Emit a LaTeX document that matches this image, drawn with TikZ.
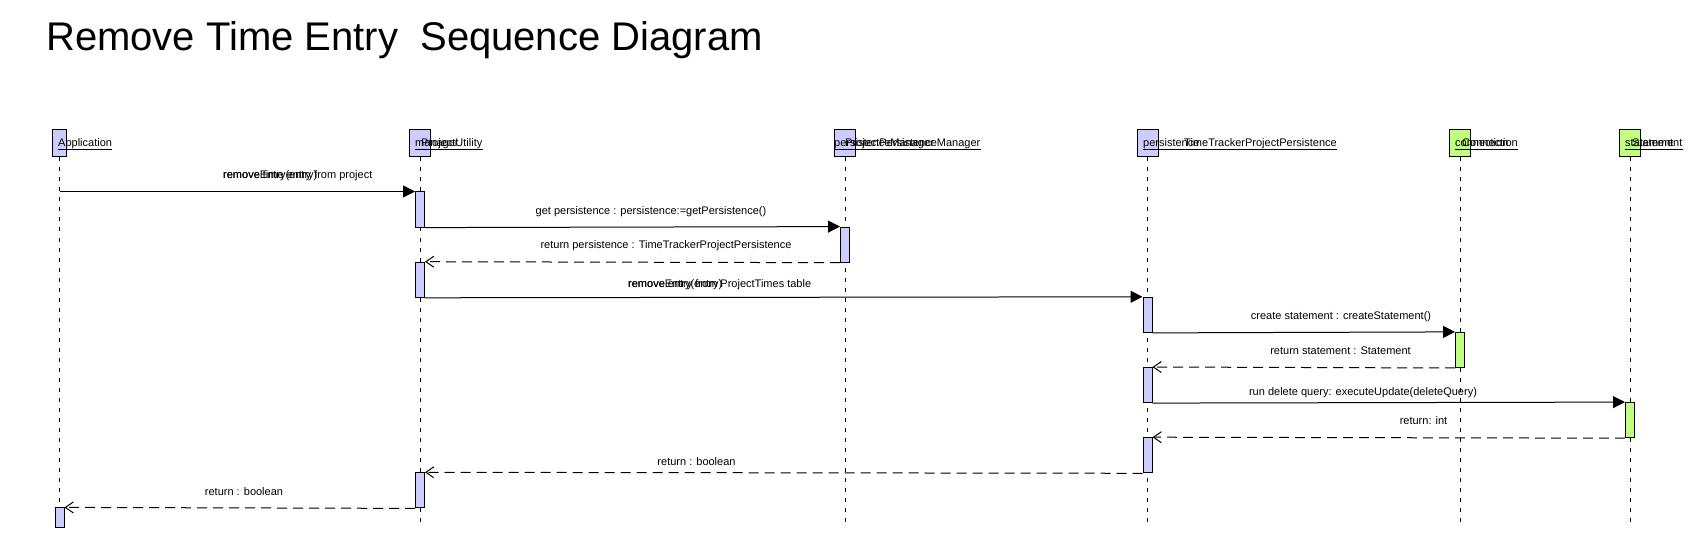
\documentclass[tikz,border=0pt]{standalone}
\usepackage{fontspec}
\setmainfont{Liberation Sans}
\usetikzlibrary{arrows.meta}
\definecolor{lav}{RGB}{204,204,255}
\definecolor{grn}{RGB}{192,255,128}
\begin{document}
\begin{tikzpicture}[x=1bp,y=-1bp,
  lbl/.style={font=\fontsize{11bp}{13bp}\selectfont, inner sep=0pt, anchor=base},
  hlbl/.style={lbl, anchor=base west},
  head/.style={draw, line width=1bp, minimum height=27bp, minimum width=21bp, inner sep=0pt},
  act/.style={draw, line width=1bp, minimum width=9bp, minimum height=35.1bp, inner sep=0pt},
  life/.style={line width=1bp, dash pattern=on 4bp off 6bp},
  call/.style={line width=1bp, -{Triangle[length=12bp,width=12bp]}},
  ret/.style={line width=1bp, dash pattern=on 10bp off 6bp, -{Straight Barb[length=8bp,width=11bp]}},
  uline/.style={line width=0.9bp}
]
\useasboundingbox (0,0) rectangle (1690,539);
\fill[white] (0,0) rectangle (1690,539);

% title
\node[anchor=base west, inner sep=0pt, font=\fontsize{40bp}{48bp}\selectfont] (title) at (46,51) {Remove Time Entry~~Sequence Diagram};

% heads
\node[head, fill=lav, minimum width=14bp] (app) at (59.5,143.5) {};
\node[head, fill=lav] (pu) at (420,143.5) {};
\node[head, fill=lav] (mg) at (845,143.5) {};
\node[head, fill=lav] (ps) at (1147.5,143.5) {};
\node[head, fill=grn] (cn) at (1460,143.5) {};
\node[head, fill=grn] (st) at (1630,143.5) {};

% lifeline ends
\coordinate (appE) at (59.5,524);
\coordinate (puE) at (420,524);
\coordinate (mgE) at (845,524);
\coordinate (psE) at (1147.5,524);
\coordinate (cnE) at (1460,524);
\coordinate (stE) at (1630,524);
\draw[life] (app) -- (appE);
\draw[life] (pu) -- (puE);
\draw[life] (mg) -- (mgE);
\draw[life] (ps) -- (psE);
\draw[life] (cn) -- (cnE);
\draw[life] (st) -- (stE);

% head labels
\node[hlbl] (appL) at (58,147) {Application};
\draw[uline] ([yshift=-2bp]appL.base west) -- ([yshift=-2bp]appL.base east);
\node[hlbl] (puA) at (415,147) {manager};
\node[hlbl] (puB) at (421,147) {ProjectUtility};
\draw[uline] ([yshift=-2bp]puA.base west) -- ([yshift=-2bp]puB.base east);
\node[hlbl] (mgA) at (834,147) {persistenceManager};
\node[hlbl] (mgB) at (845,147) {ProjectPersistenceManager};
\draw[uline] ([yshift=-2bp]mgA.base west) -- ([yshift=-2bp]mgB.base east);
\node[hlbl] (psA) at (1143,147) {persistence};
\node[hlbl] (psB) at (1184,147) {TimeTrackerProjectPersistence};
\draw[uline] ([yshift=-2bp]psA.base west) -- ([yshift=-2bp]psB.base east);
\node[hlbl] (cnA) at (1455,147) {connection};
\node[hlbl] (cnB) at (1462,147) {Connection};
\draw[uline] ([yshift=-2bp]cnA.base west) -- ([yshift=-2bp]cnB.base east);
\node[hlbl] (stA) at (1625,147) {statement};
\node[hlbl] (stB) at (1632,147) {Statement};
\draw[uline] ([yshift=-2bp]stA.base west) -- ([yshift=-2bp]stB.base east);

% activations
\node[act, fill=lav] (pu1) at (420,209.55) {};
\node[act, fill=lav] (mg1) at (845,244.65) {};
\node[act, fill=lav] (pu2) at (420,279.75) {};
\node[act, fill=lav] (ps1) at (1147.5,314.85) {};
\node[act, fill=grn] (cn1) at (1460,349.95) {};
\node[act, fill=lav] (ps2) at (1147.5,385.05) {};
\node[act, fill=grn] (st1) at (1630,420.15) {};
\node[act, fill=lav] (ps3) at (1147.5,455.25) {};
\node[act, fill=lav] (pu3) at (420,490.35) {};
\node[act, fill=lav, minimum height=20bp] (ap1) at (59.5,517.9) {};

% messages
\draw[call] (app |- pu1.north) -- (pu1.north west);
\draw[call] (pu1.south east) -- (mg1.north west);
\draw[ret] (mg1.south west) -- (pu2.north east);
\draw[call] (pu2.south east) -- (ps1.north west);
\draw[call] (ps1.south east) -- (cn1.north west);
\draw[ret] (cn1.south west) -- (ps2.north east);
\draw[call] (ps2.south east) -- (st1.north west);
\draw[ret] (st1.south west) -- (ps3.north east);
\draw[ret] (ps3.south west) -- (pu3.north east);
\draw[ret] (pu3.south west) -- (ap1.north east);

% message labels
\node[hlbl] (m1a) at (223,179) {remove time entry from project};
\node[hlbl] (m1b) at (223,179) {removeEntry(entry)};
\node[lbl] (m2) at (651,215) {get persistence : persistence:=getPersistence()};
\node[lbl] (m3) at (666,249) {return persistence : TimeTrackerProjectPersistence};
\node[hlbl] (m4a) at (628,288) {remove entry from ProjectTimes table};
\node[hlbl] (m4b) at (628,288) {removeEntry(entry)};
\node[lbl] (m5) at (1341,319.5) {create statement : createStatement()};
\node[lbl] (m6) at (1340.5,354.5) {return statement : Statement};
\node[lbl] (m7) at (1363,395) {run delete query: executeUpdate(deleteQuery)};
\node[lbl] (m8) at (1423.5,424.5) {return: int};
\node[lbl] (m9) at (696.5,465) {return : boolean};
\node[lbl] (m10) at (244,495) {return : boolean};
\end{tikzpicture}
\end{document}
